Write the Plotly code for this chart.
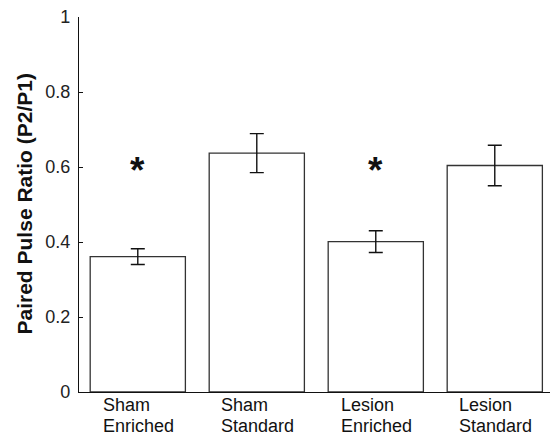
import plotly.graph_objects as go

# Group labels (two lines each) and paired-pulse ratio summary values
group_top = ["Sham", "Sham", "Lesion", "Lesion"]
group_bottom = ["Enriched", "Standard", "Enriched", "Standard"]
ppr_mean = [0.361, 0.637, 0.401, 0.604]
ppr_sem = [0.021, 0.052, 0.029, 0.054]
significant = [True, False, True, False]
star_level = 0.612

y_ticks = [0, 0.2, 0.4, 0.6, 0.8, 1]
y_tick_text = ["0", "0.2", "0.4", "0.6", "0.8", "1"]

positions = list(range(1, len(ppr_mean) + 1))
FONT = "Liberation Sans, Arial, Helvetica, sans-serif"
LABEL_SIZE = 18

# Approximate Arial/Liberation Sans advance widths (per 1000 em) used to
# left-align the two label lines under each bar
ADVANCE = {"E": 667, "S": 667, "L": 556, "n": 556, "r": 333, "i": 222,
           "c": 500, "h": 556, "e": 556, "d": 556, "t": 278, "a": 556,
           "m": 833, "s": 500, "o": 556}


def text_width(s, size):
    return sum(ADVANCE.get(ch, 556) for ch in s) * size / 1000.0


fig = go.Figure()
fig.add_trace(go.Bar(
    x=positions,
    y=ppr_mean,
    width=0.8,
    marker=dict(color="white", line=dict(color="#333333", width=1.3)),
    error_y=dict(type="data", array=ppr_sem, visible=True,
                 color="#111111", thickness=1.4, width=7),
    showlegend=False,
    hoverinfo="skip",
))

annotations = []
# Two-line category labels, left-aligned within a block centred under each bar
for x, top, bottom in zip(positions, group_top, group_bottom):
    block = max(text_width(top, LABEL_SIZE), text_width(bottom, LABEL_SIZE))
    for word, shift in ((top, -13), (bottom, -34)):
        annotations.append(dict(
            x=x, y=0, xref="x", yref="y",
            text=word, xanchor="left", yanchor="middle",
            xshift=-block / 2, yshift=shift, showarrow=False,
            height=16, borderpad=0,
            font=dict(family=FONT, size=LABEL_SIZE, color="#111111"),
        ))

# Significance markers
for x, sig in zip(positions, significant):
    if sig:
        annotations.append(dict(
            x=x, y=star_level, xref="x", yref="y",
            text="<b>*</b>", xanchor="center", yanchor="middle",
            yshift=-8, showarrow=False,
            font=dict(family=FONT, size=37, color="#111111"),
        ))

# Rotated y-axis title
annotations.append(dict(
    x=0, y=0.5, xref="paper", yref="paper",
    text="<b>Paired Pulse Ratio (P2/P1)</b>",
    textangle=-90, showarrow=False,
    xanchor="center", yanchor="middle", xshift=24 - 79,
    font=dict(family=FONT, size=21, color="#111111"),
))

fig.update_layout(
    width=550, height=437,
    margin=dict(l=79, r=0, t=17, b=45, pad=0),
    paper_bgcolor="white", plot_bgcolor="white",
    font=dict(family=FONT, size=18, color="#111111"),
    xaxis=dict(
        range=[0.506, 4.464],
        showticklabels=False, ticks="",
        showgrid=False, zeroline=False,
        showline=True, linecolor="#111111", linewidth=1.4,
        fixedrange=True,
    ),
    yaxis=dict(
        range=[0, 1],
        tickvals=y_ticks, ticktext=y_tick_text,
        ticks="inside", ticklen=4, tickwidth=1.3, tickcolor="#111111",
        ticklabelstandoff=4,
        showgrid=False, zeroline=False,
        showline=True, linecolor="#111111", linewidth=1.4,
        tickfont=dict(family=FONT, size=18, color="#222222"),
        fixedrange=True,
    ),
    annotations=annotations,
    bargap=0.2,
)

fig.write_html("out.html")
